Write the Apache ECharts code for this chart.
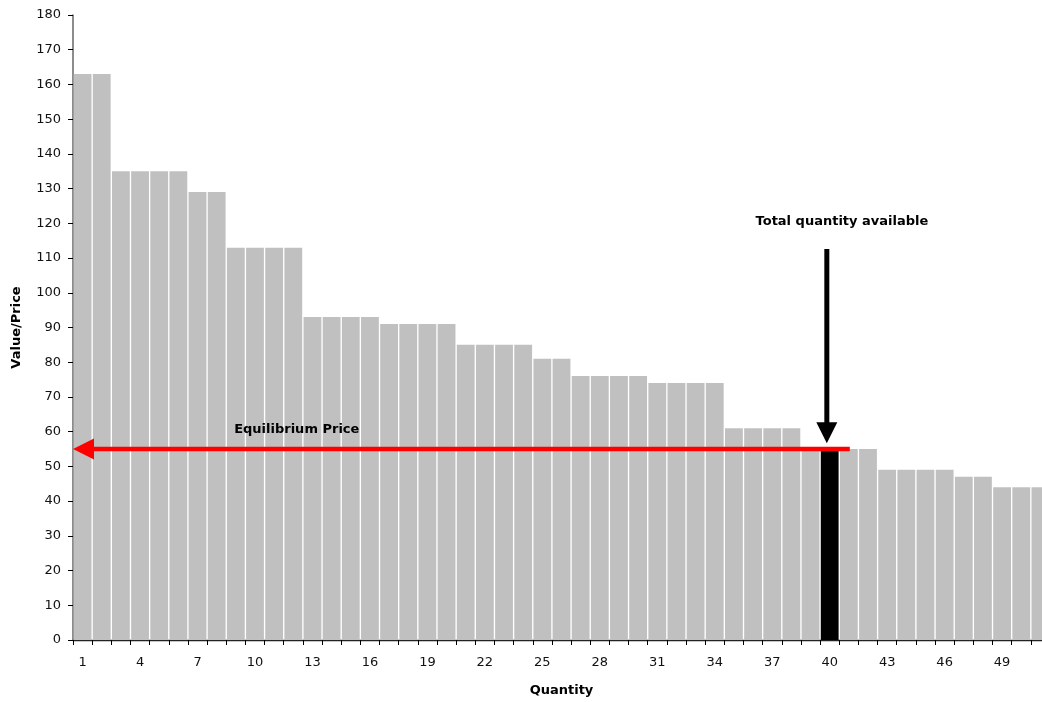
<!DOCTYPE html>
<html>
<head>
<meta charset="utf-8">
<script src="https://cdn.jsdelivr.net/npm/echarts@6/dist/echarts.min.js"></script>
<style>
html,body{margin:0;padding:0;background:#fff;}
#chart{width:1042px;height:702px;}
</style>
</head>
<body>
<div id="chart"></div>
<script>
// ---- data ----
const quantities = ['1','2','3','4','5','6','7','8','9','10','11','12','13','14','15','16','17','18','19','20',
  '21','22','23','24','25','26','27','28','29','30','31','32','33','34','35','36','37','38','39','40',
  '41','42','43','44','45','46','47','48','49','50','51'];
const prices = [163,163,135,135,135,135,129,129,113,113,113,113,93,93,93,93,91,91,91,91,
  85,85,85,85,81,81,76,76,76,76,74,74,74,74,61,61,61,61,55,55,
  55,55,49,49,49,49,47,47,44,44,44];
const totalQuantity = '40';
const equilibriumPrice = 55;
const yTicks = {min: 0, max: 180, step: 10};
// annotation arrows in data units: [xFrom, yFrom, xTo, yTo] (x measured in bar widths from the left)
const arrowData = [
  [40.55, equilibriumPrice, 0, equilibriumPrice],
  [39.35, 112.6, 39.35, 56.7]
];
const arrowColors = ['#ff0000', '#000000'];
const noteData = [
  [11.68, 60.5, 'Equilibrium Price'],
  [40.14, 120.4, 'Total quantity available']
];

const barData = prices.map((v, i) => quantities[i] === totalQuantity
  ? {value: v, itemStyle: {color: '#000000'}}
  : v);

const chart = echarts.init(document.getElementById('chart'));
const font = '"DejaVu Sans", sans-serif';

chart.setOption({
  animation: false,
  grid: {left: 73, top: 15, width: 977, height: 625, containLabel: false, outerBoundsMode: 'none'},
  xAxis: [{
    type: 'category',
    data: quantities,
    boundaryGap: true,
    axisLine: {lineStyle: {color: '#222', width: 1.3}},
    axisTick: {show: true, interval: 0, length: 5, lineStyle: {color: '#000'}},
    axisLabel: {interval: 2, margin: 16, color: '#111', fontSize: 13, fontFamily: font},
    name: 'Quantity',
    nameLocation: 'middle',
    nameGap: 44,
    nameTextStyle: {fontWeight: 'bold', fontSize: 13, color: '#000', fontFamily: font},
    splitLine: {show: false}
  }, {
    type: 'value',
    min: 0,
    max: quantities.length,
    show: false
  }],
  yAxis: {
    type: 'value',
    min: yTicks.min,
    max: yTicks.max,
    interval: yTicks.step,
    axisLine: {show: true, lineStyle: {color: '#666', width: 1.5}},
    axisTick: {show: true, length: 5, lineStyle: {color: '#000'}},
    axisLabel: {margin: 12, color: '#111', fontSize: 13, fontFamily: font},
    splitLine: {show: false},
    name: 'Value/Price',
    nameLocation: 'middle',
    nameGap: 50,
    nameRotate: 90,
    nameTextStyle: {fontWeight: 'bold', fontSize: 13, color: '#000', fontFamily: font}
  },
  series: [{
    type: 'bar',
    data: barData,
    barCategoryGap: '7%',
    itemStyle: {color: '#c0c0c0'},
    silent: true
  }, {
    type: 'custom',
    xAxisIndex: 1,
    yAxisIndex: 0,
    clip: false,
    silent: true,
    z: 10,
    data: arrowData,
    renderItem: function (params, api) {
      const p1 = api.coord([api.value(0), api.value(1)]);
      const p2 = api.coord([api.value(2), api.value(3)]);
      const dx = p2[0] - p1[0], dy = p2[1] - p1[1];
      const len = Math.sqrt(dx * dx + dy * dy);
      const ux = dx / len, uy = dy / len;
      const headLen = 21, headHalf = 10.5;
      const bx = p2[0] - ux * headLen, by = p2[1] - uy * headLen;
      const color = arrowColors[params.dataIndex];
      const lw = params.dataIndex === 0 ? 4.5 : 5;
      return {
        type: 'group',
        children: [{
          type: 'line',
          shape: {x1: p1[0], y1: p1[1], x2: bx + ux, y2: by + uy},
          style: {stroke: color, lineWidth: lw}
        }, {
          type: 'polygon',
          shape: {points: [[p2[0], p2[1]], [bx - uy * headHalf, by + ux * headHalf], [bx + uy * headHalf, by - ux * headHalf]]},
          style: {fill: color}
        }]
      };
    }
  }, {
    type: 'custom',
    xAxisIndex: 1,
    yAxisIndex: 0,
    clip: false,
    silent: true,
    z: 11,
    data: noteData,
    renderItem: function (params, api) {
      const p = api.coord([api.value(0), api.value(1)]);
      return {
        type: 'text',
        x: p[0], y: p[1],
        style: {
          text: noteData[params.dataIndex][2],
          fill: '#000',
          font: 'bold 13px ' + font,
          align: 'center',
          verticalAlign: 'middle'
        }
      };
    }
  }]
});
</script>
</body>
</html>
